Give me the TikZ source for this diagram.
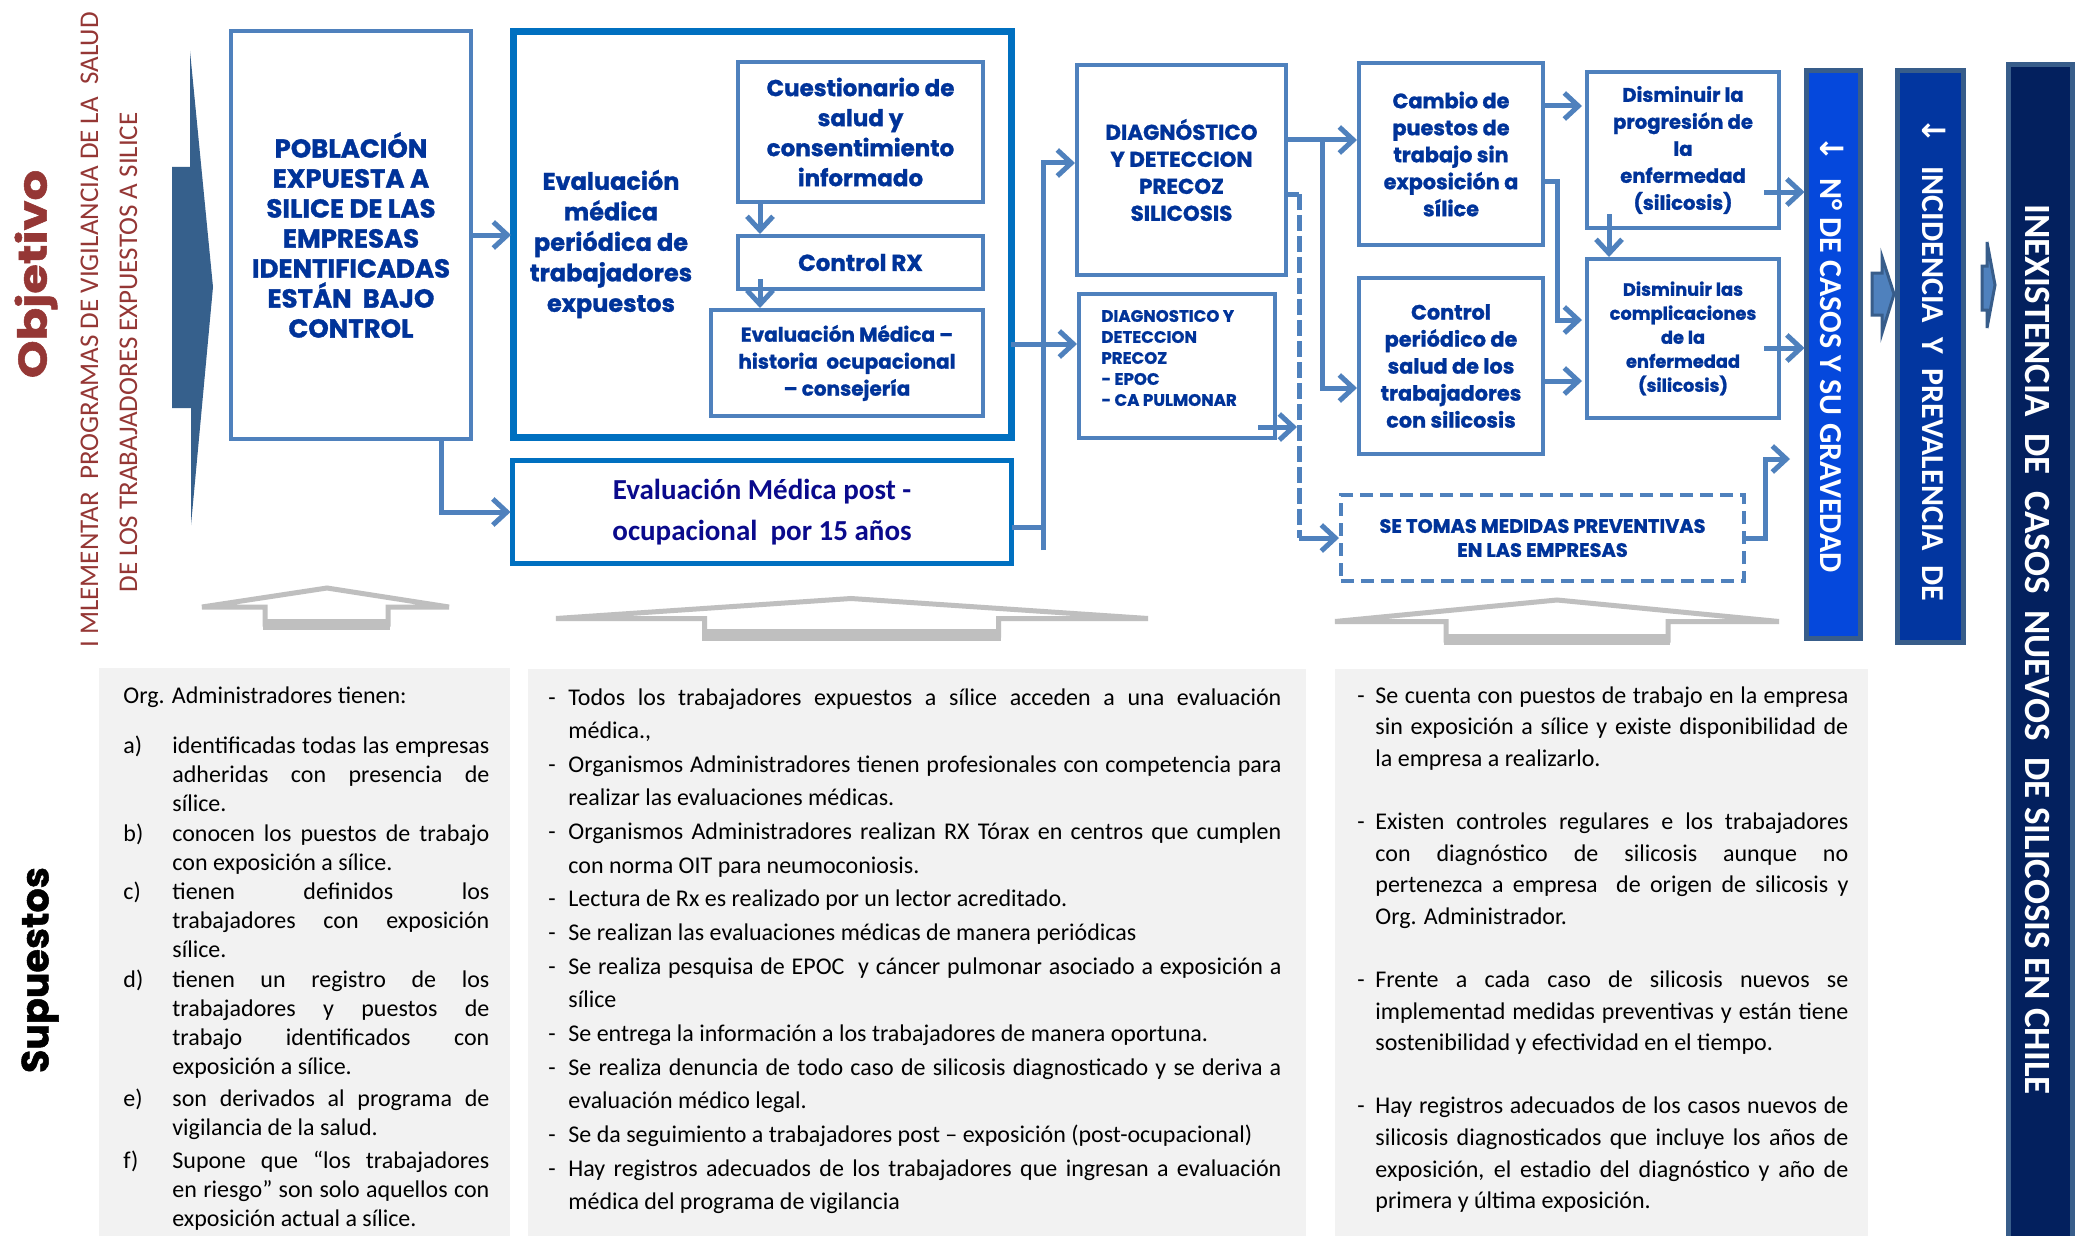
\documentclass[tikz,border=0pt]{standalone}
\usepackage{fontspec}
\setmainfont{Carlito}
\newfontfamily\boxfont{Poppins}[BoldFeatures={FakeBold=1.2}]
\newfontfamily\symfont{DejaVu Sans}
\usetikzlibrary{arrows.meta}

\definecolor{boxline}{HTML}{4F81BD}
\definecolor{evalline}{HTML}{0070C0}
\definecolor{txtblue}{HTML}{003399}
\definecolor{posttxt}{HTML}{0A0A8C}
\definecolor{objred}{HTML}{953735}
\definecolor{darkarrow}{HTML}{36608C}
\definecolor{barline}{HTML}{385D8A}
\definecolor{barA}{HTML}{0548DC}
\definecolor{barB}{HTML}{0236A0}
\definecolor{barC}{HTML}{03205E}
\definecolor{hintgray}{HTML}{BFBFBF}
\definecolor{panel}{HTML}{F2F2F2}

\begin{document}
\begin{tikzpicture}[x=0.5pt,y=-0.5pt,
  box/.style={draw=boxline,line width=2pt,fill=white,inner sep=0pt,outer sep=0pt,
    text=txtblue,align=center},
  conn/.style={draw=boxline,line width=2.5pt,
    -{Straight Barb[length=7pt,width=13pt]},shorten >=1pt},
  link/.style={draw=boxline,line width=2.5pt},
  hint/.style={draw=hintgray,line width=2.5pt,fill=white},
  bar/.style={draw=barline,line width=2.5pt,inner sep=0pt,outer sep=0pt},
  bartext/.style={text=white,rotate=-90,anchor=base west,inner sep=0pt,
    font=\bfseries\fontsize{16pt}{16pt}\selectfont},
  sidetext/.style={text=objred,rotate=90,anchor=base west,inner sep=0pt,
    font=\fontsize{13.5pt}{13.5pt}\selectfont},
  bodyleft/.style={anchor=base west,inner sep=0pt,
    font=\fontsize{12pt}{14.65pt}\selectfont},
]
\useasboundingbox (0,0) rectangle (2078,1236);
\fill[white] (0,0) rectangle (2078,1236);

% ---------- headings on the left ----------
\node[text=objred,rotate=90,inner sep=0pt,
  font=\boxfont\bfseries\fontsize{20pt}{20pt}\selectfont] (objetivo) at (36,274)
  {\scalebox{1.2}[1]{Objetivo}};
\node[sidetext] (obj1) at (98,648)
  {I MLEMENTAR\ \ PROGRAMAS DE VIGILANCIA DE LA\ \ SALUD};
\node[sidetext] (obj2) at (137,593)
  {DE LOS TRABAJADORES EXPUESTOS A SILICE};
\node[text=black,rotate=90,inner sep=0pt,
  font=\boxfont\bfseries\fontsize{19pt}{19pt}\selectfont] (supuestos) at (40,970)
  {Supuestos};

% ---------- big entry arrow ----------
\fill[darkarrow] (172,167) -- (190,167) -- (190,51) -- (213,287) -- (191,525)
  -- (191,408) -- (172,408) -- cycle;

% ---------- assumption panels ----------
\fill[panel] (99,668) rectangle (510,1240);
\fill[panel] (528,669) rectangle (1306,1240);
\fill[panel] (1335,669) rectangle (1868,1240);

% ---------- hollow upward arrows ----------
\draw[hint] (202,607) -- (327,588) -- (449,607) -- (388,607) -- (388,624)
  -- (265,624) -- (265,607) -- cycle;
\fill[hintgray] (263,619) rectangle (390,630);
\draw[hint] (556,618.5) -- (851,598.5) -- (1148,618.5) -- (998.5,618.5)
  -- (998.5,635) -- (704.5,635) -- (704.5,618.5) -- cycle;
\fill[hintgray] (702,629) rectangle (1001,641);
\draw[hint] (1335,621.5) -- (1557,600) -- (1779,621.5) -- (1668,621.5)
  -- (1668,640) -- (1446,640) -- (1446,621.5) -- cycle;
\fill[hintgray] (1444,634) rectangle (1670,645);

% ---------- flow boxes ----------
\node[box,minimum width=120pt,minimum height=204pt,
  font=\boxfont\bfseries\fontsize{13pt}{15pt}\selectfont] (pob) at (351,235)
  {POBLACIÓN\\EXPUESTA A\\SILICE DE LAS\\EMPRESAS\\IDENTIFICADAS\\ESTÁN\ \ BAJO\\CONTROL};

\node[box,draw=evalline,line width=3.5pt,minimum width=249pt,minimum height=202.5pt]
  (eval) at (762,234.5) {};
\node[text=txtblue,align=center,inner sep=0pt,
  font=\boxfont\bfseries\fontsize{12pt}{15.25pt}\selectfont] (evaltxt) at (611,244)
  {Evaluación\\médica\\periódica de\\trabajadores\\expuestos};
\node[box,minimum width=122.5pt,minimum height=70pt,
  font=\boxfont\bfseries\fontsize{11.5pt}{15pt}\selectfont] (cuest) at (860.5,132)
  {Cuestionario de\\salud y\\consentimiento\\informado};
\node[box,minimum width=122.5pt,minimum height=26.5pt,
  font=\boxfont\bfseries\fontsize{11.5pt}{15pt}\selectfont] (ctrl) at (860.5,262.5)
  {Control RX};
\node[box,minimum width=136pt,minimum height=53pt,
  font=\boxfont\bfseries\fontsize{10pt}{13.5pt}\selectfont] (hist) at (847,363)
  {Evaluación Médica –\\historia\ \ ocupacional\\– consejería};

\node[box,draw=evalline,line width=2.5pt,minimum width=249.5pt,minimum height=51.5pt,
  text=posttxt,font=\bfseries\fontsize{14.5pt}{20.5pt}\selectfont] (post) at (762,512)
  {Evaluación Médica post -\\ocupacional\ \ por 15 años};

\node[box,minimum width=104.5pt,minimum height=105pt,
  font=\boxfont\bfseries\fontsize{10.7pt}{13.5pt}\selectfont] (diag) at (1181.5,170)
  {DIAGNÓSTICO\\Y DETECCION\\PRECOZ\\SILICOSIS};
\node[box,minimum width=98pt,minimum height=72pt] (epoc) at (1177,366) {};
\node[anchor=west,align=left,text=txtblue,inner sep=0pt,
  font=\boxfont\bfseries\fontsize{8.3pt}{10.5pt}\selectfont] (epoctxt) at (1101,358)
  {DIAGNOSTICO Y\\DETECCION\\PRECOZ\\- EPOC\\- CA PULMONAR};

\node[box,minimum width=92pt,minimum height=91pt,
  font=\boxfont\bfseries\fontsize{10.4pt}{13.5pt}\selectfont] (cambio) at (1451,154)
  {Cambio de\\puestos de\\trabajo sin\\exposición a\\sílice};
\node[box,minimum width=92pt,minimum height=88pt,
  font=\boxfont\bfseries\fontsize{10.4pt}{13.5pt}\selectfont] (ctrlper) at (1451,366)
  {Control\\periódico de\\salud de los\\trabajadores\\con silicosis};
\node[box,dash pattern=on 6.5pt off 3.5pt,minimum width=201.5pt,minimum height=43pt,
  font=\boxfont\bfseries\fontsize{9.7pt}{12pt}\selectfont] (medidas) at (1542.5,538)
  {SE TOMAS MEDIDAS PREVENTIVAS\\EN LAS EMPRESAS};

\node[box,minimum width=96pt,minimum height=78pt,
  font=\boxfont\bfseries\fontsize{9.8pt}{13.5pt}\selectfont] (dprog) at (1683,150)
  {Disminuir la\\progresión de\\la\\enfermedad\\(silicosis)};
\node[box,minimum width=96pt,minimum height=79.5pt,
  font=\boxfont\bfseries\fontsize{8.9pt}{12pt}\selectfont] (dcompl) at (1683,338.5)
  {Disminuir las\\complicaciones\\de la\\enfermedad\\(silicosis)};

% ---------- outcome bars ----------
\node[bar,fill=barA,minimum width=27pt,minimum height=284pt] (bar1) at (1833.5,354.5) {};
\node[bar,fill=barB,minimum width=33pt,minimum height=286pt] (bar2) at (1930.5,356.5) {};
\node[bar,fill=barC,minimum width=32pt,minimum height=617.5pt] (bar3) at (2040.5,682) {};
\node[bartext] (bar1txt) at (1820,135)
  {{\symfont ↓}\hspace{8pt}N° DE CASOS Y SU GRAVEDAD};
\node[bartext] (bar2txt) at (1922,117)
  {{\symfont ↓}\hspace{11pt}INCIDENCIA\ \ Y\ \ PREVALENCIA\ \ DE};
\node[bartext,font=\bfseries\fontsize{18.5pt}{18.5pt}\selectfont] (bar3txt) at (2025,204)
  {INEXISTENCIA\ \ DE\ \ CASOS\ \ NUEVOS\ \ DE SILICOSIS EN CHILE};
\draw[fill=boxline,draw=barline,line width=1.5pt] (1872,273) -- (1882,273) -- (1882,257)
  -- (1894,294) -- (1882,333) -- (1882,315) -- (1872,315) -- cycle;
\draw[fill=boxline,draw=barline,line width=1.5pt] (1982,266) -- (1987,266) -- (1987,242)
  -- (1995,285) -- (1987,328) -- (1987,310) -- (1982,310) -- cycle;

% ---------- connectors ----------
\coordinate (pobx) at (441,0);
\draw[conn] (pob.east) -- (pob.east -| eval.west);
\draw[conn] (pob.south -| pobx) |- (post.west);

\coordinate (q1) at (760,0);
\coordinate (q2) at (760,279);
\draw[conn] (cuest.south -| q1) -- (ctrl.north -| q1);
\draw[conn] (q2) -- (q2 |- hist.north);

\coordinate (t1) at (1043,163);
\coordinate (t2) at (1043,344);
\coordinate (t3) at (1043,527);
\coordinate (t4) at (1043,550);
\draw[conn] (t4) -- (t1) -- (t1 -| diag.west);
\draw[link] (eval.east |- t2) -- (t2);
\draw[conn] (t2) -- (t2 -| epoc.west);
\draw[link] (post.east |- t3) -- (t3);

\coordinate (d1) at (1322,140);
\coordinate (d2) at (1322,388);
\draw[conn] (diag.east |- d1) -- (d1 -| cambio.west);
\draw[conn] (d1) -- (d2) -- (d2 -| ctrlper.west);

\coordinate (e1) at (1299,194);
\coordinate (e2) at (1299,538);
\coordinate (e3) at (1258,427);
\draw[link] (diag.east |- e1) -- (e1);
\draw[link,dash pattern=on 8pt off 2.5pt] (e1) -- (e2);
\draw[conn] (e2) -- (e2 -| medidas.west);
\draw[conn] (e3) -- (e3 -| e1);

\coordinate (f1) at (1544,106);
\coordinate (g1) at (1557,181);
\coordinate (g2) at (1557,320);
\coordinate (h1) at (1544,381);
\draw[conn,shorten >=2.5pt] (cambio.east |- f1) -- (f1 -| dprog.west);
\draw[conn,shorten >=2.5pt] (cambio.east |- g1) -- (g1) -- (g2) -- (g2 -| dcompl.west);
\draw[conn,shorten >=2.5pt] (ctrlper.east |- h1) -- (h1 -| dcompl.west);

\coordinate (k1) at (1609,214);
\draw[conn] (k1) -- (k1 |- dcompl.north);
\coordinate (m1) at (1764,192);
\coordinate (m2) at (1764,348);
\draw[conn] (m1) -- (m1 -| bar1.west);
\draw[conn] (m2) -- (m2 -| bar1.west);
\coordinate (n1) at (1765,538);
\coordinate (n2) at (1765,459);
\coordinate (n3) at (1792,459);
\draw[conn] (medidas.east |- n1) -- (n1) -- (n2) -- (n3);

% ---------- assumptions: left panel ----------
\node[bodyleft] (orgtitle) at (123,703) {Org. Administradores tienen:};
\node[bodyleft] (ia) at (123,753) {\makebox[24.5pt][l]{a)}\parbox[t]{158.5pt}{%
  identificadas todas las empresas\linebreak adheridas con presencia de\linebreak sílice.}};
\node[bodyleft] (ib) at (123,841) {\makebox[24.5pt][l]{b)}\parbox[t]{158.5pt}{%
  conocen los puestos de trabajo\linebreak con exposición a sílice.}};
\node[bodyleft] (ic) at (123,899) {\makebox[24.5pt][l]{c)}\parbox[t]{158.5pt}{%
  tienen definidos los\linebreak trabajadores con exposición\linebreak sílice.}};
\node[bodyleft] (id) at (123,987) {\makebox[24.5pt][l]{d)}\parbox[t]{158.5pt}{%
  tienen un registro de los\linebreak trabajadores y puestos de\linebreak
  trabajo identificados con\linebreak exposición a sílice.}};
\node[bodyleft] (ie) at (123,1106) {\makebox[24.5pt][l]{e)}\parbox[t]{158.5pt}{%
  son derivados al programa de\linebreak vigilancia de la salud.}};
\node[bodyleft] (if) at (123,1168) {\makebox[24.5pt][l]{f)}\parbox[t]{158.5pt}{%
  Supone que “los trabajadores\linebreak en riesgo” son solo aquellos con\linebreak
  exposición actual a sílice.}};

% ---------- assumptions: middle panel ----------
\node[anchor=base west,inner sep=0pt,font=\fontsize{12pt}{16.83pt}\selectfont]
  (midlist) at (548,705) {\parbox[t]{366.5pt}{\parskip=0pt
  \hangindent=10pt\hangafter=1\noindent\makebox[10pt][l]{-}Todos los trabajadores expuestos a sílice acceden a una evaluación\linebreak médica.,\par
  \hangindent=10pt\hangafter=1\noindent\makebox[10pt][l]{-}Organismos Administradores tienen profesionales con competencia para\linebreak realizar las evaluaciones médicas.\par
  \hangindent=10pt\hangafter=1\noindent\makebox[10pt][l]{-}Organismos Administradores realizan RX Tórax en centros que cumplen\linebreak con norma OIT para neumoconiosis.\par
  \hangindent=10pt\hangafter=1\noindent\makebox[10pt][l]{-}Lectura de Rx es realizado por un lector acreditado.\par
  \hangindent=10pt\hangafter=1\noindent\makebox[10pt][l]{-}Se realizan las evaluaciones médicas de manera periódicas\par
  \hangindent=10pt\hangafter=1\noindent\makebox[10pt][l]{-}Se realiza pesquisa de EPOC\ \ y cáncer pulmonar asociado a exposición a\linebreak sílice\par
  \hangindent=10pt\hangafter=1\noindent\makebox[10pt][l]{-}Se entrega la información a los trabajadores de manera oportuna.\par
  \hangindent=10pt\hangafter=1\noindent\makebox[10pt][l]{-}Se realiza denuncia de todo caso de silicosis diagnosticado y se deriva a\linebreak evaluación médico legal.\par
  \hangindent=10pt\hangafter=1\noindent\makebox[10pt][l]{-}Se da seguimiento a trabajadores post – exposición (post-ocupacional)\par
  \hangindent=10pt\hangafter=1\noindent\makebox[10pt][l]{-}Hay registros adecuados de los trabajadores que ingresan a evaluación\linebreak médica del programa de vigilancia\par}};

% ---------- assumptions: right panel ----------
\node[anchor=base west,inner sep=0pt,font=\fontsize{12pt}{15.8pt}\selectfont]
  (rightlist) at (1357,703) {\parbox[t]{245.5pt}{\parskip=15.8pt
  \hangindent=9pt\hangafter=1\noindent\makebox[9pt][l]{-}Se cuenta con puestos de trabajo en la empresa\linebreak sin exposición a sílice y existe disponibilidad de\linebreak la empresa a realizarlo.\par
  \hangindent=9pt\hangafter=1\noindent\makebox[9pt][l]{-}Existen controles regulares e los trabajadores\linebreak con diagnóstico de silicosis aunque no\linebreak pertenezca a empresa\ \ de origen de silicosis y\linebreak Org. Administrador.\par
  \hangindent=9pt\hangafter=1\noindent\makebox[9pt][l]{-}Frente a cada caso de silicosis nuevos se\linebreak implementad medidas preventivas y están tiene\linebreak sostenibilidad y efectividad en el tiempo.\par
  \hangindent=9pt\hangafter=1\noindent\makebox[9pt][l]{-}Hay registros adecuados de los casos nuevos de\linebreak silicosis diagnosticados que incluye los años de\linebreak exposición, el estadio del diagnóstico y año de\linebreak primera y última exposición.\par}};
\end{tikzpicture}
\end{document}
